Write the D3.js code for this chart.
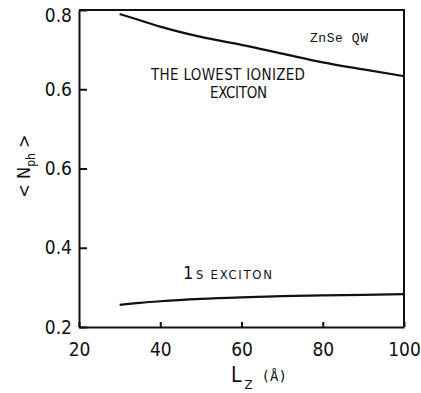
<!DOCTYPE html>
<html>
<head>
<meta charset="utf-8">
<script src="https://cdn.jsdelivr.net/npm/d3@7"></script>
<style>
  body { margin: 0; background: #fff; }
  svg { display: block; }
  .axis text { font-family: "Liberation Sans Narrow", "DejaVu Sans Condensed", sans-serif; font-size: 19px; fill: #111; }
  .axis path, .axis line { stroke: #111; stroke-width: 2; }
  .note { font-family: "Liberation Sans Narrow", "DejaVu Sans Condensed", sans-serif; fill: #111; }
</style>
</head>
<body>
<div id="chart"></div>
<script>
// wells width in angstrom
const xTicks = [20, 40, 60, 80, 100];
// the figure labels its middle tick "0.6" too, kept as printed
const yTicks = [0.2, 0.4, 0.5, 0.6, 0.8];
const yTickLabels = ['0.2', '0.4', '0.6', '0.6', '0.8'];

const lz = [30, 35, 40, 50, 60, 70, 80, 90, 100];
const ionized = [0.790, 0.774, 0.758, 0.732, 0.712, 0.690, 0.668, 0.650, 0.633];
const exciton1s = [0.256, 0.261, 0.265, 0.271, 0.275, 0.278, 0.280, 0.281, 0.283];

const W = 421, H = 393;
const margin = { top: 10, right: 17, bottom: 66, left: 79 };
const width = W - margin.left - margin.right;
const height = H - margin.top - margin.bottom;

const svg = d3.select('#chart').append('svg')
  .attr('width', W)
  .attr('height', H);

const g = svg.append('g')
  .attr('transform', `translate(${margin.left},${margin.top})`);

const x = d3.scaleLinear().domain([20, 100]).range([0, width]);
// axis is not linear in the original, ticks sit evenly
const y = d3.scaleLinear().domain([0.2, 0.4, 0.6, 0.8]).range([height, height * 3 / 4, height / 4, 0]);

// frame top and right
g.append('path')
  .attr('d', `M0,0H${width}V${height}`)
  .attr('fill', 'none')
  .attr('stroke', '#111')
  .attr('stroke-width', 2);

const xAxis = g.append('g')
  .attr('class', 'axis')
  .attr('transform', `translate(0,${height})`)
  .call(d3.axisBottom(x).tickValues(xTicks).tickSizeInner(-5).tickSizeOuter(0).tickPadding(16));
xAxis.selectAll('text').attr('dy', '0.71em');

const yAxis = g.append('g')
  .attr('class', 'axis')
  .call(d3.axisLeft(y).tickValues(yTicks).tickSizeInner(-8).tickSizeOuter(0).tickPadding(7)
    .tickFormat((d, i) => yTickLabels[i]));
yAxis.selectAll('text').filter(d => d === 0.8).attr('dy', '0.6em');

const line = d3.line()
  .x((d, i) => x(lz[i]))
  .y(d => y(d))
  .curve(d3.curveMonotoneX);

[ionized, exciton1s].forEach(s => {
  g.append('path')
    .attr('d', line(s))
    .attr('fill', 'none')
    .attr('stroke', '#111')
    .attr('stroke-width', 2.2);
});

// annotations
svg.append('text').attr('class', 'note')
  .attr('x', 310).attr('y', 42)
  .attr('font-size', 13)
  .attr('textLength', 58).attr('lengthAdjust', 'spacing')
  .style('font-family', '"Liberation Mono", "DejaVu Sans Mono", monospace')
  .text('ZnSe QW');

svg.append('text').attr('class', 'note')
  .attr('x', 151).attr('y', 80)
  .attr('font-size', 15)
  .attr('textLength', 154).attr('lengthAdjust', 'spacing')
  .text('THE LOWEST IONIZED');

svg.append('text').attr('class', 'note')
  .attr('x', 210).attr('y', 98)
  .attr('font-size', 15)
  .attr('textLength', 57).attr('lengthAdjust', 'spacing')
  .text('EXCITON');

const t1s = svg.append('text').attr('class', 'note')
  .attr('x', 183).attr('y', 279);
t1s.append('tspan').attr('font-size', 18).text('1');
t1s.append('tspan').attr('x', 196).attr('font-size', 13)
  .attr('textLength', 76).attr('lengthAdjust', 'spacing')
  .text('S EXCITON');

// axis titles
const yt = svg.append('text').attr('class', 'note')
  .attr('transform', 'translate(30,166) rotate(-90)')
  .attr('text-anchor', 'middle')
  .attr('font-size', 18);
yt.append('tspan').text('< N');
yt.append('tspan').attr('font-size', 12).attr('dy', 5).text('ph');
yt.append('tspan').attr('dy', -5).text(' >');

const xt = svg.append('text').attr('class', 'note')
  .attr('x', 231).attr('y', 382)
  .attr('font-size', 21);
xt.append('tspan').text('L');
xt.append('tspan').attr('font-size', 13).attr('dx', 3).attr('dy', 7).text('Z');
xt.append('tspan').attr('font-size', 14).attr('dx', 9).attr('dy', -8)
  .style('font-family', '"DejaVu Sans Mono", monospace')
  .text('(Å)');
</script>
</body>
</html>
